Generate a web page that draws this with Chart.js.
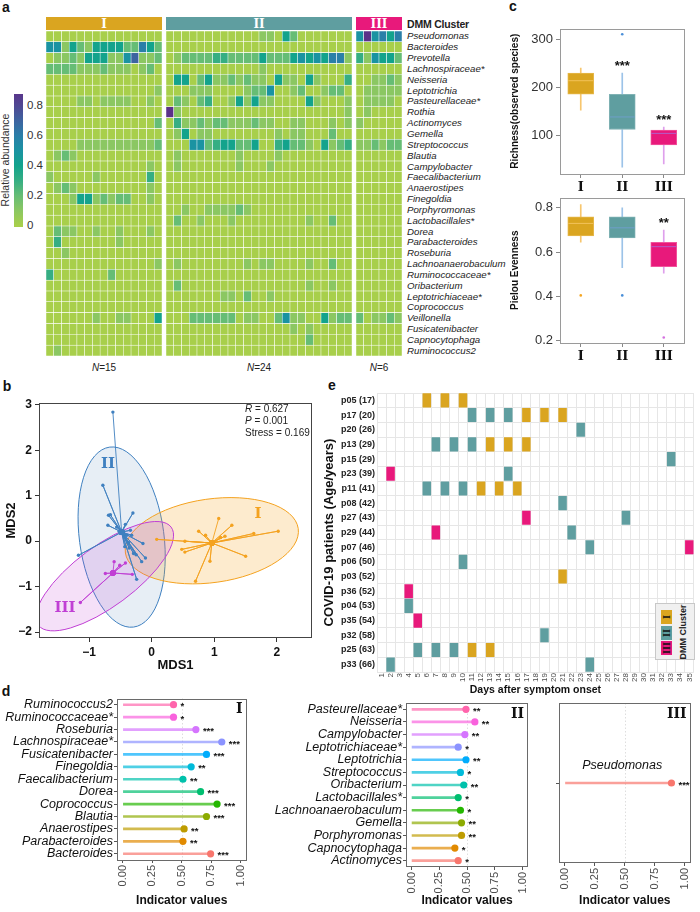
<!DOCTYPE html>
<html>
<head>
<meta charset="utf-8">
<title>DMM clusters of the COVID-19 oral microbiome</title>
<script src="https://cdn.jsdelivr.net/npm/chart.js@4.4.1/dist/chart.umd.min.js"></script>
<style>
  body { margin: 0; background: #fff; }
  #fig { position: relative; width: 700px; height: 912px; overflow: hidden;
         font-family: "Liberation Sans", Arial, Helvetica, sans-serif; color: #1a1a1a; }
  #fig canvas { position: absolute; }
  .t { position: absolute; white-space: nowrap; line-height: 1; }
  .panel { font-weight: bold; font-size: 14px; color: #111; }
  .roman { font-family: "DejaVu Serif", "Liberation Serif", serif; font-weight: bold; }
  .taxon { font-style: italic; font-size: 9.7px; color: #222; }
</style>
</head>
<body>
<div id="fig"></div>
<script>
// ---- panel a : heatmap of the 30 top taxa ----
const taxa = ['Pseudomonas', 'Bacteroides', 'Prevotella', 'Lachnospiraceae*', 'Neisseria', 'Leptotrichia',
  'Pasteurellaceae*', 'Rothia', 'Actinomyces', 'Gemella', 'Streptococcus', 'Blautia', 'Campylobacter',
  'Faecalibacterium', 'Anaerostipes', 'Finegoldia', 'Porphyromonas', 'Lactobacillales*', 'Dorea',
  'Parabacteroides', 'Roseburia', 'Lachnoanaerobaculum', 'Ruminococcaceae*', 'Oribacterium',
  'Leptotrichiaceae*', 'Coprococcus', 'Veillonella', 'Fusicatenibacter', 'Capnocytophaga', 'Ruminococcus2'];
const clusterNames = ['I', 'II', 'III'];
const clusterN = [15, 24, 6];
// one string per taxon, one digit per sample = relative abundance x 10
const heatI = [
  '000000000000000', '551421444422642', '011214441157112', '222211121110120', '000000000000000',
  '000000000000001', '000011011110010', '000000000000000', '000000000000002', '000000000000000',
  '000011111111112', '012100000000000', '000000000000010', '100000100000030', '012100000000010',
  '000144121220010', '000000000000000', '000000000000000', '021100100100010', '030000000100000',
  '001000000000000', '000000000000001', '300000002000000', '000000000000000', '000000000000000',
  '000000000000000', '000000100110004', '000000000000000', '000000000000000', '010000000000000'];
const heatII = [
  '000000000000110420000000', '000000000000000000000000', '012222332222422245454661', '000000000000100000000000',
  '044024112121104110410003', '000111000012250012001220', '021023001414110000410001', '910000000000000000000001',
  '031121221112110011000101', '014011000000001011000200', '000552344224003422104123', '010000000100001000000000',
  '010000000100010000000000', '000000000000000000000000', '000000000000000000000000', '000000000000000000000000',
  '001001111210000000000000', '020010001000000000100200', '000000000000000000000000', '000000000000000000000000',
  '000000000000000000000000', '010000000010110000100200', '000000000000000000000000', '020000000000000000100100',
  '000000011020010000000000', '000000000000000000000000', '000222222011002511004122', '000000000000000010100000',
  '000000000000000000200000', '000000000000000000000000'];
const heatIII = [
  '595646', '000000', '315442', '000000', '001121', '011111', '011110', '010000', '100000', '000000',
  '112122', '000000', '000000', '000000', '000000', '000000', '000000', '000000', '000000', '000000',
  '000000', '000000', '000000', '000000', '000000', '000000', '201121', '000000', '000000', '000000'];
const abundTicks = [0, 0.2, 0.4, 0.6, 0.8];
const cmapVals = [0, 0.1, 0.2, 0.3, 0.4, 0.5, 0.6, 0.7, 0.8, 0.9];
const cmapCols = ['#a8cf4b', '#8bc762', '#66bd75', '#36ae83', '#13a38c', '#1a93a2', '#2a7fa8', '#3d64a0', '#4f4893', '#5b3289'];

// ---- panel c : alpha diversity ----
const richQ1 = [186, 113, 81], richMed = [214, 139, 105], richQ3 = [230, 186, 112];
const richLo = [153, 35, 42], richHi = [240, 230, 118];
const richOutC = ['II'], richOutV = [310];
const richSig = ['', '***', '***'];
const richTicks = [100, 200, 300];
const evenQ1 = [0.674, 0.665, 0.535], evenMed = [0.73, 0.71, 0.625], evenQ3 = [0.76, 0.76, 0.645];
const evenLo = [0.645, 0.53, 0.505], evenHi = [0.815, 0.80, 0.70];
const evenOutC = ['I', 'II', 'III'], evenOutV = [0.405, 0.405, 0.215];
const evenSig = ['', '', '**'];
const evenTicks = [0.2, 0.4, 0.6, 0.8];

// ---- panel b : NMDS ----
const mdsX = [
  [1.07, 1.28, 0.75, 0.86, 1.17, 1.63, 2.02, 0.08, 0.53, 0.48, 0.53, 0.93, 1.5, 0.7, 1.1],
  [-0.62, -0.78, -0.69, -0.66, -0.30, -0.70, -0.56, -0.42, -0.34, -0.50, -0.45, -0.40, -0.32, -1.17, -0.14, -0.37, -0.43, -0.36, -0.29, -0.10, -0.16, -0.25, -0.24, -0.52],
  [-0.60, -0.51, -0.42, -0.74, -0.31, -1.14]];
const mdsY = [
  [0.5, 0.35, 0.22, 0.13, 0.11, 0.17, 0.22, 0.04, 0.0, -0.18, -0.24, -0.44, -0.33, -0.88, 0.08],
  [2.84, 1.23, 0.57, 0.58, 0.62, 0.35, 0.31, 0.37, 0.24, 0.18, 0.15, 0.13, 0.13, -0.31, -0.05, -0.03, -0.12, -0.15, -0.27, -0.37, -0.45, -0.30, -0.84, 0.22],
  [-0.45, -0.53, -0.48, -0.71, -0.73, -1.35]];
const mdsCentroid = [[0.96, -0.04], [-0.48, 0.2], [-0.62, -0.7]];
// confidence ellipses: centre and two conjugate semi-axes (data units)
const ellCentre = [[0.96, 0.01], [-0.48, 0.09], [-0.75, -0.77]];
const ellAxisA = [[1.38, 0.27], [-0.19, 1.98], [1.06, 1.08]];
const ellAxisB = [[0.097, -0.91], [0.67, 0.12], [0.29, -0.53]];
const mdsTicksX = [-1, 0, 1, 2], mdsTicksY = [-2, -1, 0, 1, 2, 3];

// ---- panel e : sampling timeline ----
const patients = ['p05 (17)', 'p17 (20)', 'p20 (26)', 'p13 (29)', 'p15 (29)', 'p23 (39)', 'p11 (41)', 'p08 (42)',
  'p27 (43)', 'p29 (44)', 'p07 (46)', 'p06 (50)', 'p03 (52)', 'p36 (52)', 'p04 (53)', 'p35 (54)', 'p32 (58)',
  'p25 (63)', 'p33 (66)'];
const sampDays = [[6, 8, 10], [11, 13, 15, 17, 19, 21], [23], [7, 9, 11, 13, 15, 17], [33], [2, 15],
  [6, 8, 10, 12, 14, 16], [21], [17, 28], [7, 22], [24, 35], [10], [21], [4], [4], [5], [19],
  [5, 7, 9, 11, 13], [2, 24]];
const sampClus = [[1, 1, 1], [2, 2, 2, 1, 1, 1], [2], [2, 2, 2, 1, 1, 1], [2], [3, 2],
  [2, 2, 2, 1, 1, 1], [2], [3, 2], [3, 2], [2, 3], [2], [1], [3], [2], [3], [2],
  [2, 2, 2, 1, 1], [2, 2]];
const dayTicks = [1, 2, 3, 4, 5, 6, 7, 8, 9, 10, 11, 12, 13, 14, 15, 16, 17, 18, 19, 20,
  21, 22, 23, 24, 25, 26, 27, 28, 29, 30, 31, 32, 33, 34, 35];

// ---- panel d : indicator taxa ----
const indTaxaI = ['Ruminococcus2', 'Ruminococcaceae*', 'Roseburia', 'Lachnospiraceae*', 'Fusicatenibacter',
  'Finegoldia', 'Faecalibacterium', 'Dorea', 'Coprococcus', 'Blautia', 'Anaerostipes', 'Parabacteroides', 'Bacteroides'];
const indValI = [0.43, 0.43, 0.62, 0.84, 0.71, 0.58, 0.51, 0.66, 0.80, 0.71, 0.52, 0.51, 0.745];
const indSigI = ['*', '*', '***', '***', '***', '**', '**', '***', '***', '***', '**', '**', '***'];
const indTaxaII = ['Pasteurellaceae*', 'Neisseria', 'Campylobacter', 'Leptotrichiaceae*', 'Leptotrichia',
  'Streptococcus', 'Oribacterium', 'Lactobacillales*', 'Lachnoanaerobaculum', 'Gemella', 'Porphyromonas',
  'Capnocytophaga', 'Actinomyces'];
const indValII = [0.49, 0.57, 0.48, 0.42, 0.49, 0.44, 0.47, 0.42, 0.44, 0.45, 0.45, 0.39, 0.42];
const indSigII = ['**', '**', '**', '*', '**', '*', '**', '*', '*', '**', '**', '*', '*'];
const indTaxaIII = ['Pseudomonas'];
const indValIII = [0.89];
const indSigIII = ['***'];
const indTicks = [0, 0.25, 0.5, 0.75, 1];

// ---- colours ----
const clusterCols = ['#DAA520', '#5F9EA0', '#E8197B'];
const boxEdge = ['#E6B84C', '#80B2B4', '#F0559C'];
const whiskCols = ['#F7C66E', '#9CC3E8', '#DFA0EC'];
const medCols = ['#F2C25A', '#6F9FC9', '#B45CC8'];
const outCols = ['#F5A623', '#4A8FD8', '#D46FE0'];
const mdsCols = ['#F4A21F', '#3F80C0', '#C03FD4'];
const ellFill = ['rgba(244,162,31,0.22)', 'rgba(70,120,180,0.13)', 'rgba(192,63,212,0.16)'];
const hue13 = ['#F8766D', '#E18A00', '#BE9C00', '#8CAB00', '#24B700', '#00BE70', '#00C1AB',
  '#00BBDA', '#00ACFC', '#8B93FF', '#D575FE', '#F962DD', '#FF65AC'];

const fig = document.getElementById('fig');
const FONT = '"Liberation Sans", Arial, Helvetica, sans-serif';
const SERIF = '"DejaVu Serif", "Liberation Serif", serif';
Chart.defaults.font.family = FONT;
Chart.defaults.color = '#222';
Chart.defaults.animation = false;
Chart.defaults.responsive = false;
Chart.defaults.maintainAspectRatio = false;
Chart.defaults.devicePixelRatio = 1;
Chart.defaults.plugins.legend.display = false;
Chart.defaults.plugins.tooltip.enabled = false;

// grey box around the plotting area
Chart.register({
  id: 'frame',
  afterDatasetsDraw(chart, args, o) {
    if (!o || !o.color) return;
    const a = chart.chartArea, ctx = chart.ctx;
    ctx.save();
    ctx.strokeStyle = o.color;
    ctx.lineWidth = 1;
    ctx.strokeRect(Math.round(a.left) + 0.5, Math.round(a.top) + 0.5, Math.round(a.width) - 1, Math.round(a.height) - 1);
    ctx.restore();
  }
});

function mk(left, top, w, h) {
  const c = document.createElement('canvas');
  c.width = w; c.height = h;
  c.style.left = left + 'px'; c.style.top = top + 'px';
  c.style.width = w + 'px'; c.style.height = h + 'px';
  fig.appendChild(c);
  return c;
}

function label(text, x, y, o) {
  o = o || {};
  const d = document.createElement('div');
  d.className = 't' + (o.cls ? ' ' + o.cls : '');
  if (o.html) d.innerHTML = text; else d.textContent = text;
  d.style.left = x + 'px';
  d.style.top = y + 'px';
  const a = o.anchor || 'c';
  const tx = a === 'l' ? '0' : (a === 'r' ? '-100%' : '-50%');
  d.style.transform = 'translate(' + tx + ',-50%)' + (o.rotate ? ' rotate(' + o.rotate + 'deg)' : '');
  if (o.style) Object.assign(d.style, o.style);
  fig.appendChild(d);
  return d;
}

function hexRgb(h) {
  return [parseInt(h.slice(1, 3), 16), parseInt(h.slice(3, 5), 16), parseInt(h.slice(5, 7), 16)];
}
function abundColor(v) {
  const last = cmapVals.length - 1;
  v = Math.max(0, Math.min(cmapVals[last], v));
  let i = 0;
  while (i < last - 1 && v > cmapVals[i + 1]) i++;
  const t = (v - cmapVals[i]) / (cmapVals[i + 1] - cmapVals[i]);
  const a = hexRgb(cmapCols[i]), b = hexRgb(cmapCols[i + 1]);
  return 'rgb(' + a.map((c, k) => Math.round(c + (b[k] - c) * t)).join(',') + ')';
}

// panel letters
label('a', 6, 7, {cls: 'panel'});
label('b', 7, 386, {cls: 'panel'});
label('c', 513, 6, {cls: 'panel'});
label('d', 6, 691, {cls: 'panel'});
label('e', 332, 385, {cls: 'panel'});

// ================= a : heatmap =================
const HEAT_TOP = 31, ROW_H = 10.84;
function heatmap(left, width, rows, n) {
  const cv = mk(left, HEAT_TOP, width, Math.round(ROW_H * taxa.length));
  const samples = [];
  for (let i = 0; i < n; i++) samples.push('s' + (i + 1));
  const ds = taxa.map((t, r) => {
    const s = (rows[r] + '0'.repeat(n)).slice(0, n);
    return {
      label: t,
      data: samples.map(() => 1),
      backgroundColor: s.split('').map(ch => abundColor(Number(ch) / 10)),
      borderColor: '#ffffff', borderWidth: 0.55, borderSkipped: false,
      categoryPercentage: 1, barPercentage: 1
    };
  }).reverse();
  new Chart(cv, {
    type: 'bar',
    data: {labels: samples, datasets: ds},
    options: {
      layout: {padding: 0},
      scales: {
        x: {display: false, stacked: true},
        y: {display: false, stacked: true, min: 0, max: taxa.length}
      }
    }
  });
}
const heatCols = [[46, 116], [166, 186], [356, 46]];
[heatI, heatII, heatIII].forEach((rows, k) => {
  const [l, w] = heatCols[k];
  heatmap(l, w, rows, clusterN[k]);
  const hd = document.createElement('div');
  Object.assign(hd.style, {position: 'absolute', left: l + 'px', top: '17px', width: w + 'px', height: '13px',
    background: clusterCols[k]});
  fig.appendChild(hd);
  label(clusterNames[k], l + w / 2, 23.5, {cls: 'roman', style: {color: '#fff', fontSize: '12px'}});
  label('<i>N</i>=' + clusterN[k], l + w / 2, 368, {html: true, style: {fontSize: '10px', color: '#222'}});
});
label('DMM Cluster', 407, 23.5, {anchor: 'l', style: {fontWeight: 'bold', fontSize: '10.5px', color: '#222',
  letterSpacing: '-0.2px'}});
taxa.forEach((t, r) => label(t, 407, HEAT_TOP + ROW_H * (r + 0.5), {anchor: 'l', cls: 'taxon'}));

// colour bar
(function () {
  const top = 94, h = 133, vMin = -0.01, vMax = 0.88;
  const pct = v => ((v - vMin) / (vMax - vMin) * 100).toFixed(1);
  const bar = document.createElement('div');
  Object.assign(bar.style, {position: 'absolute', left: '14px', top: top + 'px', width: '9px', height: h + 'px',
    background: 'linear-gradient(to top, ' + cmapCols.map((c, i) => c + ' ' + pct(cmapVals[i]) + '%').join(', ') + ')'});
  fig.appendChild(bar);
  abundTicks.forEach(v => {
    const y = top + h - (v - vMin) / (vMax - vMin) * h;
    label(v === 0 ? '0' : v.toFixed(1), 27, y, {anchor: 'l', style: {fontSize: '11.5px', color: '#333'}});
  });
  label('Relative abundance', 5, 160, {rotate: -90, style: {fontSize: '10.5px', color: '#333'}});
})();

// ================= c : box plots =================
function boxPlot(top, q1, med, q3, lo, hi, outC, outV, yMin, yMax, ticks, title, sig, fmt) {
  const cv = mk(505, top, 193, 182);
  new Chart(cv, {
    type: 'bar',
    data: {
      labels: clusterNames,
      datasets: [
        {type: 'scatter', data: clusterNames.map((c, i) => ({x: c, y: med[i]})), pointStyle: 'line',
          pointRadius: 12.5, borderColor: medCols, borderWidth: 1},
        {type: 'scatter', data: outC.map((c, i) => ({x: c, y: outV[i]})), pointRadius: 1.3,
          backgroundColor: outC.map(c => outCols[clusterNames.indexOf(c)]), borderWidth: 0},
        {data: clusterNames.map((c, i) => [q1[i], q3[i]]), backgroundColor: clusterCols, borderColor: boxEdge,
          borderWidth: 1, borderSkipped: false, barThickness: 26, grouped: false},
        {data: clusterNames.map((c, i) => [lo[i], q1[i]]), backgroundColor: whiskCols, barThickness: 1, grouped: false},
        {data: clusterNames.map((c, i) => [q3[i], hi[i]]), backgroundColor: whiskCols, barThickness: 1, grouped: false}
      ]
    },
    options: {
      layout: {padding: {top: 7, right: 6, left: 0, bottom: 0}},
      scales: {
        x: {
          afterFit: s => { s.height = 23; },
          ticks: {font: {family: SERIF, weight: 'bold', size: 13}, color: '#111', padding: 2},
          grid: {offset: false, drawOnChartArea: false, tickLength: 4, color: '#888'},
          border: {display: false}
        },
        y: {
          min: yMin, max: yMax,
          afterBuildTicks: s => { s.ticks = ticks.map(v => ({value: v})); },
          afterFit: s => { s.width = 55; },
          ticks: {callback: fmt, font: {size: 13}, color: '#333', padding: 3},
          grid: {drawOnChartArea: false, tickLength: 4, color: '#888'},
          border: {display: false},
          title: {display: true, text: title, font: {size: 10, weight: 'bold'}, color: '#111', padding: {top: 4, bottom: 0}}
        }
      },
      plugins: {frame: {color: '#9a9a9a'}}
    },
    plugins: [{
      id: 'sig',
      afterDatasetsDraw(chart) {
        const {ctx, scales: {x, y}} = chart;
        ctx.save();
        ctx.font = 'bold 13px ' + FONT;
        ctx.fillStyle = '#111';
        ctx.textAlign = 'center';
        ctx.textBaseline = 'middle';
        sig.forEach((s, i) => { if (s) ctx.fillText(s, x.getPixelForValue(i), y.getPixelForValue(hi[i]) - 7); });
        ctx.restore();
      }
    }]
  });
}
boxPlot(15, richQ1, richMed, richQ3, richLo, richHi, richOutC, richOutV, 21, 322, richTicks,
  'Richness(observed species)', richSig, v => String(v));
boxPlot(184, evenQ1, evenMed, evenQ3, evenLo, evenHi, evenOutC, evenOutV, 0.19, 0.847, evenTicks,
  'Pielou Evenness', evenSig, v => v.toFixed(1));

// ================= b : NMDS =================
(function () {
  const cv = mk(0, 392, 318, 288);
  const ds = clusterNames.map((name, k) => {
    const c = {x: mdsCentroid[k][0], y: mdsCentroid[k][1]};
    const spokes = [];
    mdsX[k].forEach((x, j) => { spokes.push({x: x, y: mdsY[k][j]}, c); });
    return {
      label: name, data: spokes, showLine: true, borderColor: mdsCols[k], borderWidth: 0.9,
      pointRadius: ctx => (ctx.raw === c ? 2.8 : 1.7), pointBackgroundColor: mdsCols[k], pointBorderWidth: 0
    };
  });
  const minus = v => (v < 0 ? '\u2212' + Math.abs(v) : String(v));
  new Chart(cv, {
    type: 'scatter',
    data: {datasets: ds},
    options: {
      layout: {padding: {top: 11, right: 6, left: 0, bottom: 0}},
      scales: {
        x: {
          min: -1.8, max: 2.56,
          afterBuildTicks: s => { s.ticks = mdsTicksX.map(v => ({value: v})); },
          afterFit: s => { s.height = 42; },
          ticks: {callback: minus, font: {size: 12, weight: 'bold'}, color: '#111', padding: 3},
          grid: {drawOnChartArea: false, tickLength: 4, color: '#333'},
          border: {display: false},
          title: {display: true, text: 'MDS1', font: {size: 13, weight: 'bold'}, color: '#111', padding: {top: 2, bottom: 7}}
        },
        y: {
          min: -2.13, max: 3.04,
          afterBuildTicks: s => { s.ticks = mdsTicksY.map(v => ({value: v})); },
          afterFit: s => { s.width = 39; },
          ticks: {callback: minus, font: {size: 12, weight: 'bold'}, color: '#111', padding: 3},
          grid: {drawOnChartArea: false, tickLength: 4, color: '#333'},
          border: {display: false},
          title: {display: true, text: 'MDS2', font: {size: 13, weight: 'bold'}, color: '#111', padding: {top: 4, bottom: 0}}
        }
      },
      plugins: {frame: {color: '#444'}}
    },
    plugins: [{
      id: 'ellipses',
      beforeDatasetsDraw(chart) {
        const {ctx, chartArea: a, scales: {x, y}} = chart;
        ctx.save();
        ctx.beginPath();
        ctx.rect(a.left, a.top, a.width, a.height);
        ctx.clip();
        [1, 0, 2].forEach(k => {
          const c = ellCentre[k];
          const cx = x.getPixelForValue(c[0]), cy = y.getPixelForValue(c[1]);
          const ax = x.getPixelForValue(c[0] + ellAxisA[k][0]) - cx, ay = y.getPixelForValue(c[1] + ellAxisA[k][1]) - cy;
          const bx = x.getPixelForValue(c[0] + ellAxisB[k][0]) - cx, by = y.getPixelForValue(c[1] + ellAxisB[k][1]) - cy;
          ctx.save();
          ctx.transform(ax, ay, bx, by, cx, cy);
          ctx.beginPath();
          ctx.arc(0, 0, 1, 0, Math.PI * 2);
          ctx.restore();
          ctx.fillStyle = ellFill[k];
          ctx.fill();
          ctx.strokeStyle = mdsCols[k];
          ctx.lineWidth = 1;
          ctx.stroke();
        });
        ctx.restore();
      }
    }]
  });
  label('<i>R</i> = 0.627', 245, 409, {html: true, anchor: 'l', style: {fontSize: '10px', color: '#222'}});
  label('<i>P</i> = 0.001', 245, 421, {html: true, anchor: 'l', style: {fontSize: '10px', color: '#222'}});
  label('Stress = 0.169', 245, 433, {anchor: 'l', style: {fontSize: '10px', color: '#222'}});
  label('I', 258, 513, {cls: 'roman', style: {color: mdsCols[0], fontSize: '15px'}});
  label('II', 108, 463, {cls: 'roman', style: {color: mdsCols[1], fontSize: '15px'}});
  label('III', 65, 607, {cls: 'roman', style: {color: mdsCols[2], fontSize: '15px'}});
})();

// ================= e : sampling timeline =================
(function () {
  const cv = mk(318, 385, 382, 312);
  const ds = clusterNames.map((name, k) => {
    const data = [];
    patients.forEach((p, i) => sampDays[i].forEach((d, j) => {
      if (sampClus[i][j] === k + 1) data.push({y: p, x: [d - 0.47, d + 0.47]});
    }));
    return {label: name, data: data, backgroundColor: clusterCols[k], borderWidth: 0, grouped: false,
      barPercentage: 0.96, categoryPercentage: 1};
  });
  new Chart(cv, {
    type: 'bar',
    data: {labels: patients, datasets: ds},
    options: {
      indexAxis: 'y',
      layout: {padding: {top: 8, right: 5, left: 0, bottom: 0}},
      scales: {
        x: {
          type: 'linear', min: 0.5, max: 35.5,
          afterBuildTicks: s => { s.ticks = dayTicks.map(v => ({value: v})); },
          afterFit: s => { s.height = 25; },
          ticks: {autoSkip: false, minRotation: 90, maxRotation: 90, font: {size: 8}, color: '#4d4d4d', padding: 1},
          grid: {offset: true, color: '#e6e6e6', drawTicks: false},
          border: {display: false},
          title: {display: true, text: 'Days after symptom onset', font: {size: 10.5, weight: 'bold'}, color: '#111',
            padding: {top: 0, bottom: 1}}
        },
        y: {
          afterFit: s => { s.width = 59; },
          ticks: {autoSkip: false, font: {size: 9, weight: 'bold'}, color: '#222', padding: 2},
          grid: {offset: true, color: '#e6e6e6', drawTicks: false},
          border: {display: false},
          title: {display: true, text: 'COVID-19 patients (Age/years)', font: {size: 13, weight: 'bold'}, color: '#111',
            padding: {top: 4, bottom: 0}}
        }
      }
    }
  });
  // legend
  const box = document.createElement('div');
  Object.assign(box.style, {position: 'absolute', left: '655px', top: '603px', width: '40px', height: '57px',
    background: '#f0f0f0', border: '1px solid #c8c8c8', boxSizing: 'border-box'});
  fig.appendChild(box);
  clusterNames.forEach((n, k) => {
    const key = document.createElement('div');
    Object.assign(key.style, {position: 'absolute', left: '661px', top: (610 + k * 15.5) + 'px', width: '11px',
      height: '14px', background: clusterCols[k]});
    fig.appendChild(key);
    label(n, 666.5, 617 + k * 15.5, {cls: 'roman', rotate: -90, style: {fontSize: '8.5px', color: '#111'}});
  });
  label('DMM Cluster', 683, 632, {rotate: -90, style: {fontSize: '9px', fontWeight: 'bold', color: '#222'}});
})();

// ================= d : indicator species =================
function lollipop(left, width, names, vals, sig, corner, yW, padTop, padRight, xH, inline) {
  const cv = mk(left, 690, width, 222);
  const n = names.length;
  const cols = names.map((t, i) => hue13[n - 1 - i]);
  const yTicks = {autoSkip: false, font: {size: 12.5, style: 'italic'}, color: '#111', padding: 1};
  if (inline) yTicks.callback = () => '';
  new Chart(cv, {
    type: 'bar',
    data: {
      labels: names,
      datasets: [
        {type: 'scatter', data: vals.map((v, i) => ({x: v, y: names[i]})), backgroundColor: cols, pointRadius: 3.6, borderWidth: 0},
        {data: vals.map(v => [0, v]), backgroundColor: cols.map(c => c + 'B0'), barThickness: 2, grouped: false}
      ]
    },
    options: {
      indexAxis: 'y',
      layout: {padding: {top: padTop, right: padRight, left: 0, bottom: 0}},
      scales: {
        x: {
          type: 'linear', min: -0.05, max: 1.05,
          afterBuildTicks: s => { s.ticks = indTicks.map(v => ({value: v})); },
          afterFit: s => { s.height = xH; },
          ticks: {callback: v => v.toFixed(2), minRotation: 90, maxRotation: 90, font: {size: 11}, color: '#4d4d4d', padding: 2},
          grid: {drawOnChartArea: false, tickLength: 3, color: '#555'},
          border: {display: false},
          title: {display: true, text: 'Indicator values', font: {size: 12, weight: 'bold'}, color: '#111',
            padding: {top: 2, bottom: 4}}
        },
        y: {
          afterFit: s => { s.width = yW; },
          ticks: yTicks,
          grid: {offset: false, drawOnChartArea: false, tickLength: 3, color: '#555'},
          border: {display: false}
        }
      },
      plugins: {frame: {color: '#6a6a6a'}}
    },
    plugins: [{
      id: 'lolliText',
      beforeDatasetsDraw(chart) {
        const {ctx, chartArea: a, scales: {x}} = chart;
        const xm = Math.round(x.getPixelForValue(0.5)) + 0.5;
        ctx.save();
        ctx.strokeStyle = '#dedede';
        ctx.setLineDash([1.5, 2]);
        ctx.beginPath();
        ctx.moveTo(xm, a.top);
        ctx.lineTo(xm, a.bottom);
        ctx.stroke();
        ctx.restore();
      },
      afterDatasetsDraw(chart) {
        const {ctx, chartArea: a, scales: {x, y}} = chart;
        ctx.save();
        ctx.fillStyle = '#111';
        ctx.font = 'bold 9.5px ' + FONT;
        ctx.textAlign = 'left';
        ctx.textBaseline = 'middle';
        vals.forEach((v, i) => ctx.fillText(sig[i], x.getPixelForValue(v) + 7, y.getPixelForValue(i) + 2));
        ctx.font = 'bold 14px ' + SERIF;
        ctx.textAlign = 'right';
        ctx.textBaseline = 'top';
        ctx.fillText(corner, a.right - 4, a.top + 4);
        if (inline) {
          ctx.font = 'italic 12.5px ' + FONT;
          ctx.textAlign = 'center';
          ctx.textBaseline = 'middle';
          ctx.fillText(names[0], x.getPixelForValue(vals[0] / 2) + 4, y.getPixelForValue(0) - 17);
        }
        ctx.restore();
      }
    }]
  });
}
lollipop(0, 256, indTaxaI, indValI, indSigI, 'I', 117, 8, 4, 52, false);
lollipop(262, 276, indTaxaII, indValII, indSigII, 'II', 144, 13, 4, 45, false);
lollipop(540, 160, indTaxaIII, indValIII, indSigIII, 'III', 19, 13, 2, 49, true);
</script>
</body>
</html>
